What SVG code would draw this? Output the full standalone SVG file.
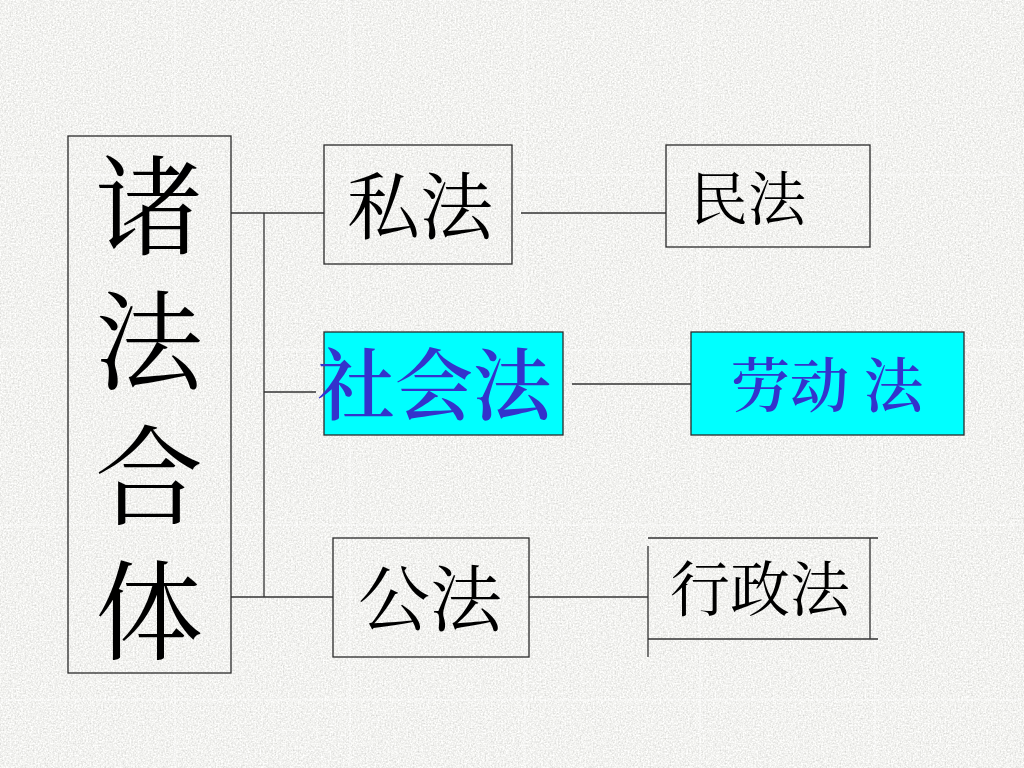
<svg xmlns="http://www.w3.org/2000/svg" width="1024" height="768" viewBox="0 0 1024 768">
<defs>
<filter id="grain" x="0" y="0" width="1024" height="768" filterUnits="userSpaceOnUse">
<feTurbulence type="fractalNoise" baseFrequency="0.6" numOctaves="2" seed="7" result="n"/>
<feColorMatrix in="n" type="saturate" values="0" result="g"/>
<feComponentTransfer in="g">
<feFuncR type="linear" slope="0.7" intercept="0.54"/>
<feFuncG type="linear" slope="0.7" intercept="0.54"/>
<feFuncB type="linear" slope="0.7" intercept="0.52"/>
<feFuncA type="linear" slope="0" intercept="1"/>
</feComponentTransfer>
</filter>
<style>
.box{fill:none;stroke:#2a2a2a;stroke-width:1.3}
.cyan{fill:#00FFFF;stroke:#2a2a2a;stroke-width:1.3}
.ln{stroke:#333;stroke-width:1.3;fill:none}
.seam{stroke:#ffffff;stroke-width:1;opacity:0.6}
.t{font-family:'Noto Serif CJK SC','Noto Sans CJK SC',sans-serif;text-anchor:middle;fill:#000}
.v{font-family:'Noto Serif CJK SC','Noto Sans CJK SC',sans-serif;fill:#000}
.b{font-family:'Noto Serif CJK SC','Noto Sans CJK SC',sans-serif;text-anchor:middle;fill:#3333CC;font-weight:600}
</style>
</defs>
<g id="background">
<rect x="0" y="0" width="1024" height="768" fill="#deded9"/>
<rect x="0" y="0" width="1024" height="768" filter="url(#grain)"/>
<path class="seam" d="M175 0V768M350 0V768M525 0V768M700 0V768M875 0V768M0 175H1024M0 350H1024M0 525H1024M0 700H1024"/>
</g>
<g id="connectors">
<path class="ln" d="M231 213H324"/>
<path class="ln" d="M264 213V597"/>
<path class="ln" d="M264 392H316"/>
<path class="ln" d="M231 597H333"/>
<path class="ln" d="M521 213H666"/>
<path class="ln" d="M572 384H691"/>
<path class="ln" d="M529 597H648"/>
</g>
<g id="node-zhufaheti">
<rect class="box" x="68" y="136" width="163" height="537"/>
<text class="v" x="149" y="151" font-size="108" writing-mode="tb" letter-spacing="27">诸法合体</text>
</g>
<g id="node-sifa">
<rect class="box" x="324" y="145" width="188" height="119"/>
<text class="t" x="420" y="233" font-size="73">私法</text>
</g>
<g id="node-minfa">
<rect class="box" x="666" y="145" width="204" height="102"/>
<text class="t" x="748" y="220" font-size="58">民法</text>
</g>
<g id="node-shehuifa">
<rect class="cyan" x="324" y="332" width="239" height="103"/>
<text class="b" x="434" y="414" font-size="78">社会法</text>
</g>
<g id="node-laodongfa">
<rect class="cyan" x="691" y="332" width="273" height="103"/>
<text class="b" x="827" y="407" font-size="59">劳动 法</text>
</g>
<g id="node-gongfa">
<rect class="box" x="333" y="538" width="196" height="119"/>
<text class="t" x="430" y="625" font-size="72">公法</text>
</g>
<g id="node-xingzhengfa">
<path class="ln" d="M648 538H878M648 639H878M870 538V639M648 546V657"/>
<text class="t" x="760" y="611" font-size="60">行政法</text>
</g>
</svg>
